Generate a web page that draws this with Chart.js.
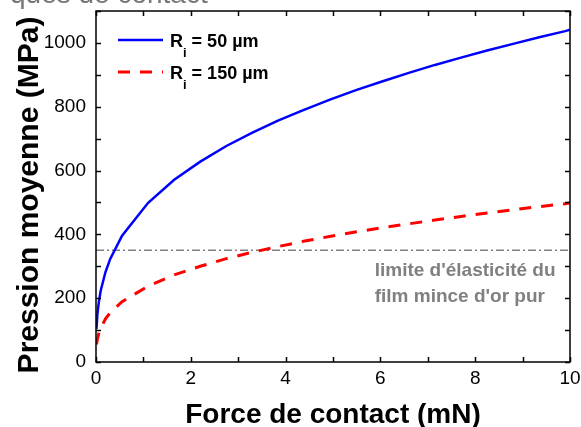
<!DOCTYPE html>
<html>
<head>
<meta charset="utf-8">
<script src="https://cdn.jsdelivr.net/npm/chart.js@4.4.0/dist/chart.umd.min.js"></script>
<style>
    html, body { margin: 0; padding: 0; background: #fff; }
    #wrap { width: 581px; height: 427px; }
</style>
</head>
<body>
<div id="wrap"><canvas id="pressureChart" width="581" height="427"></canvas></div>
<script>
// values
var forces = [0.01, 0.03, 0.06, 0.1, 0.2, 0.3, 0.55, 1.1, 1.65, 2.2, 2.75, 3.3, 3.85, 4.4, 4.95, 5.5, 6.05, 6.6, 7.15, 7.7, 8.25, 8.8, 9.35, 9.9, 10];
var pressure50 = [104, 150, 189, 224, 282, 323, 396, 499, 571, 628, 677, 719, 757, 791, 823, 853, 880, 906, 931, 954, 976, 997, 1018, 1037, 1041];
var pressure150 = [55, 72, 90, 107, 135, 155, 189, 238, 273, 300, 324, 344, 362, 379, 394, 408, 421, 433, 445, 456, 467, 477, 487, 496, 498];
var limitForces = [0, 10];
var limitPressure = 350;
var radii = ['50 µm', '150 µm'];
var xTickLabels = [0, 2, 4, 6, 8, 10];
var yTickLabels = [0, 200, 400, 600, 800, 1000];
var xTitle = 'Force de contact (mN)';
var yTitle = 'Pression moyenne (MPa)';
var noteLines = ["limite d'élasticité du", "film mince d'or pur"];
var topCaption = 'ques de contact';

var FONT = "'Liberation Sans', Arial, Helvetica, sans-serif";
Chart.defaults.font.family = FONT;

function toPoints(xs, ys) {
    return xs.map((x, i) => ({ x: x, y: ys[i] }));
}

// fixed axis boxes, no extra room for the edge labels
function fixBox(size) {
    return function (s) {
        if (s.isHorizontal()) s.height = size; else s.width = size;
        s.paddingTop = 0; s.paddingBottom = 0;
        s.paddingLeft = 0; s.paddingRight = 0;
    };
}

var decorPlugin = {
    id: 'decor',
    afterDatasetsDraw: function (chart) {
        var ctx = chart.ctx;
        var a = chart.chartArea;
        var xs = chart.scales.x;
        var ys = chart.scales.y;

        ctx.save();
        // inward ticks on all four sides
        ctx.strokeStyle = '#000';
        ctx.lineWidth = 1.5;
        ctx.beginPath();
        xs.ticks.forEach(t => {
            var px = Math.round(xs.getPixelForValue(t.value)) + 0.5;
            ctx.moveTo(px, a.bottom); ctx.lineTo(px, a.bottom - 5);
            ctx.moveTo(px, a.top); ctx.lineTo(px, a.top + 5);
        });
        ys.ticks.forEach(t => {
            var py = Math.round(ys.getPixelForValue(t.value)) + 0.5;
            ctx.moveTo(a.left, py); ctx.lineTo(a.left + 5, py);
            ctx.moveTo(a.right, py); ctx.lineTo(a.right - 5, py);
        });
        ctx.stroke();
        ctx.strokeRect(a.left, a.top, a.right - a.left, a.bottom - a.top);

        // legend
        chart.data.datasets.slice(0, 2).forEach((ds, i) => {
            var y = 40 + i * 32;
            ctx.save();
            ctx.strokeStyle = ds.borderColor;
            ctx.lineWidth = ds.borderWidth;
            ctx.setLineDash(ds.borderDash || []);
            ctx.beginPath();
            ctx.moveTo(118, y); ctx.lineTo(163, y);
            ctx.stroke();
            ctx.restore();

            ctx.fillStyle = '#000';
            ctx.textAlign = 'left';
            ctx.textBaseline = 'alphabetic';
            ctx.font = 'bold 18px ' + FONT;
            ctx.fillText('R', 170, y + 7);
            var wR = ctx.measureText('R').width;
            ctx.font = 'bold 13px ' + FONT;
            ctx.fillText('i', 170 + wR, y + 17);
            var wi = ctx.measureText('i').width;
            ctx.font = 'bold 18px ' + FONT;
            ctx.fillText(' = ' + radii[i], 170 + wR + wi, y + 7);
        });

        // elastic limit note
        ctx.fillStyle = '#808080';
        ctx.font = 'bold 19px ' + FONT;
        var nx = xs.getPixelForValue(5.88);
        var ny = ys.getPixelForValue(limitPressure);
        ctx.fillText(noteLines[0], nx, ny + 26);
        ctx.fillText(noteLines[1], nx, ny + 52);

        // axis titles
        ctx.fillStyle = '#000';
        ctx.textAlign = 'center';
        ctx.textBaseline = 'alphabetic';
        ctx.font = 'bold 28px ' + FONT;
        ctx.fillText(xTitle, (a.left + a.right) / 2, 423);
        ctx.save();
        ctx.translate(38, 195);
        ctx.rotate(-Math.PI / 2);
        ctx.font = 'bold 30px ' + FONT;
        ctx.fillText(yTitle, 0, 0);
        ctx.restore();

        // clipped caption line above the figure
        ctx.fillStyle = '#777';
        ctx.textAlign = 'left';
        ctx.font = '28px ' + FONT;
        ctx.fillText(topCaption, 10, 3);
        ctx.restore();
    }
};

var ctx = document.getElementById('pressureChart').getContext('2d');
var pressureChart = new Chart(ctx, {
    type: 'line',
    data: {
        datasets: [
            {
                label: 'Ri = ' + radii[0],
                data: toPoints(forces, pressure50),
                borderColor: '#0000ff',
                borderWidth: 2.5,
                pointRadius: 0,
                tension: 0,
                fill: false
            },
            {
                label: 'Ri = ' + radii[1],
                data: toPoints(forces, pressure150),
                borderColor: '#ff0000',
                borderWidth: 3,
                borderDash: [12, 10],
                pointRadius: 0,
                tension: 0,
                fill: false
            },
            {
                label: 'limite',
                data: toPoints(limitForces, limitForces.map(() => limitPressure)),
                borderColor: '#808080',
                borderWidth: 1.5,
                borderDash: [8, 3, 2, 3],
                pointRadius: 0,
                fill: false
            }
        ]
    },
    options: {
        responsive: false,
        animation: false,
        devicePixelRatio: 1,
        layout: { padding: { top: 11, right: 11, left: 0, bottom: 0 } },
        plugins: {
            legend: { display: false },
            tooltip: { enabled: false }
        },
        scales: {
            x: {
                type: 'linear',
                min: 0,
                max: 10,
                grid: { display: false, drawTicks: false },
                border: { display: false },
                ticks: {
                    stepSize: 1,
                    autoSkip: false,
                    maxRotation: 0,
                    padding: 6,
                    color: '#000',
                    font: { size: 19, lineHeight: 1.15 },
                    callback: v => xTickLabels.indexOf(v) >= 0 ? String(v) : ''
                },
                afterFit: fixBox(65)
            },
            y: {
                type: 'linear',
                min: 0,
                max: 1100,
                grid: { display: false, drawTicks: false },
                border: { display: false },
                ticks: {
                    stepSize: 100,
                    autoSkip: false,
                    padding: 10,
                    color: '#000',
                    font: { size: 19, lineHeight: 1.15 },
                    callback: v => yTickLabels.indexOf(v) >= 0 ? String(v) : ''
                },
                afterFit: fixBox(96)
            }
        }
    },
    plugins: [decorPlugin]
});
</script>
</body>
</html>
